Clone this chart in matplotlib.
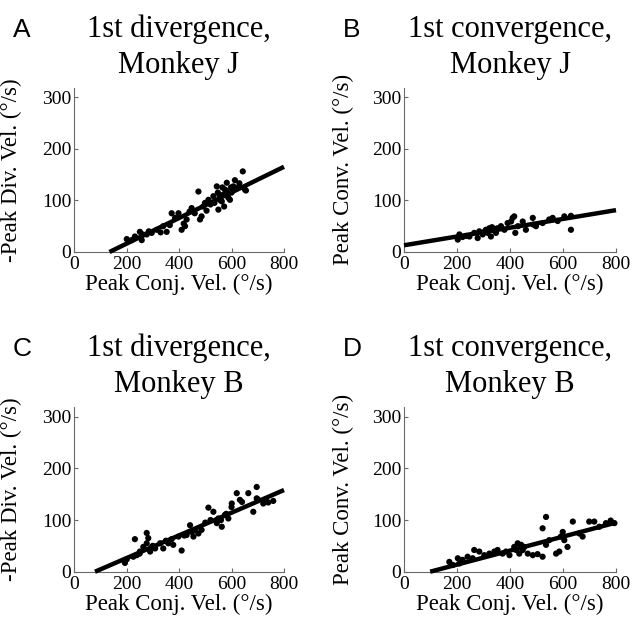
import matplotlib
matplotlib.use("Agg")
import matplotlib.pyplot as plt
import numpy as np

SERIF = "Liberation Serif"
SANS = "Liberation Sans"

# ---- data: peak conjugate velocity vs. peak vergence velocity (deg/s) ----
a_x = [201, 220, 232, 251, 258, 262, 277, 285, 296, 315, 330, 340, 353, 365, 372,
       385, 398, 410, 418, 423, 429, 440, 448, 460, 474, 480, 486, 492, 499, 505,
       512, 520, 531, 535, 544, 548, 550, 555, 558, 563, 565, 569, 572, 575, 580,
       582, 588, 594, 598, 600, 607, 613, 620, 630, 643, 651, 655]
a_y = [25, 23, 30, 39, 23, 34, 34, 40, 37, 43, 38, 50, 39, 52, 75,
       66, 75, 43, 55, 50, 63, 78, 85, 75, 117, 63, 69, 88, 95, 80,
       101, 92, 108, 95, 127, 115, 82, 110, 100, 98, 125, 111, 88, 121, 118,
       134, 105, 101, 125, 115, 127, 139, 124, 133, 156, 121, 119]

b_x = [203, 209, 221, 235, 247, 265, 278, 284, 297, 305, 309, 316, 322, 328, 332,
       335, 340, 347, 353, 366, 379, 391, 404, 410, 416, 420, 430, 448, 460, 486,
       488, 498, 523, 548, 561, 580, 605, 630, 630]
b_y = [24, 34, 29, 31, 30, 37, 27, 40, 34, 40, 43, 37, 46, 30, 48,
       43, 45, 37, 46, 50, 43, 56, 59, 66, 69, 37, 50, 59, 43, 66,
       53, 50, 56, 63, 66, 60, 69, 70, 43]

c_x = [194, 201, 226, 232, 239, 250, 251, 264, 277, 277, 283, 290, 296, 300, 309,
       328, 340, 350, 359, 372, 378, 398, 410, 420, 429, 442, 448, 455, 460, 474,
       486, 500, 512, 520, 531, 544, 550, 560, 563, 575, 580, 588, 600, 601, 620,
       632, 640, 664, 683, 696, 696, 700, 721, 730, 740, 759]
c_y = [17, 24, 29, 63, 32, 35, 39, 48, 75, 55, 65, 39, 48, 50, 45,
       55, 45, 60, 55, 63, 52, 68, 41, 70, 71, 90, 77, 68, 80, 74,
       81, 95, 124, 100, 116, 94, 103, 100, 87, 110, 112, 103, 125, 132, 152,
       139, 135, 152, 116, 164, 142, 140, 132, 140, 134, 137]

d_x = [171, 184, 203, 209, 221, 240, 259, 265, 284, 303, 322, 341, 353, 372, 385,
       398, 416, 423, 429, 435, 442, 448, 454, 467, 486, 504, 523, 536, 523, 536,
       548, 574, 586, 592, 599, 605, 617, 637, 661, 674, 699, 718, 737, 762, 780,
       794]
d_y = [19, 13, 26, 16, 23, 29, 26, 42, 39, 32, 35, 39, 42, 35, 39,
       32, 48, 42, 55, 35, 52, 42, 48, 35, 32, 34, 29, 52, 84, 106,
       61, 35, 39, 68, 77, 61, 48, 97, 74, 68, 97, 97, 87, 94, 99,
       94]

# regression lines: slope, intercept
fit_slope = [0.248, 0.085, 0.2196, 0.1355]
fit_icpt = [-33.5, 13.0, -17.6, -13.4]

letters = ["A", "B", "C", "D"]
titles = ["1st divergence,\nMonkey J", "1st convergence,\nMonkey J",
          "1st divergence,\nMonkey B", "1st convergence,\nMonkey B"]
ylabels = ["-Peak Div. Vel. (°/s)", "Peak Conv. Vel. (°/s)",
           "-Peak Div. Vel. (°/s)", "Peak Conv. Vel. (°/s)"]
xlabel = "Peak Conj. Vel. (°/s)"
xticks = [0, 200, 400, 600, 800]
yticks = [0, 100, 200, 300]

W, H = 633, 620
fig = plt.figure(figsize=(W / 100, H / 100), dpi=100)

ax_h = 164.3
lefts = [74, 404, 74, 404]
widths = [210, 212, 210, 212]
bottoms = [368, 368, 48.3, 48.3]
ylab_off = [-0.248, -0.236, -0.248, -0.236]

series = [(a_x, a_y), (b_x, b_y), (c_x, c_y), (d_x, d_y)]
spine_col = "#6a6a6a"

for i in range(4):
    ax = fig.add_axes([lefts[i] / W, bottoms[i] / H, widths[i] / W, ax_h / H])
    xs, ys = series[i]
    ax.scatter(xs, ys, s=20, color="black", edgecolors="none", zorder=3, clip_on=False)
    m, b = fit_slope[i], fit_icpt[i]
    x0 = max(0.0, -b / m)
    lx = np.array([x0, 800.0])
    ax.plot(lx, m * lx + b, color="black", lw=3.2, solid_capstyle="butt", zorder=4,
            clip_on=False)

    ax.set_xlim(0, 800)
    ax.set_ylim(0, 318)
    ax.set_xticks(xticks)
    ax.set_yticks(yticks)
    for s in ("top", "right"):
        ax.spines[s].set_visible(False)
    for s in ("left", "bottom"):
        ax.spines[s].set_color(spine_col)
        ax.spines[s].set_linewidth(0.8)
    ax.tick_params(direction="in", length=3, width=0.8, color=spine_col,
                   labelsize=14, pad=2)
    ax.tick_params(axis="x", pad=3)
    for lab in ax.get_xticklabels() + ax.get_yticklabels():
        lab.set_fontfamily(SERIF)

    ax.set_xlabel(xlabel, fontfamily=SERIF, fontsize=16.5)
    ax.xaxis.set_label_coords(0.5, -0.135)
    ax.set_ylabel(ylabels[i], fontfamily=SERIF, fontsize=16.5)
    ax.yaxis.set_label_coords(ylab_off[i], 0.5)

    top_px = H - (bottoms[i] + ax_h)  # from top of figure
    cx = (lefts[i] + widths[i] / 2) / W
    line1, line2 = titles[i].split("\n")
    fig.text(cx, 1 - (top_px - 51) / H, line1,
             ha="center", va="baseline", fontfamily=SERIF, fontsize=22)
    fig.text(cx, 1 - (top_px - 15) / H, line2,
             ha="center", va="baseline", fontfamily=SERIF, fontsize=22)
    fig.text((lefts[i] - 61) / W, 1 - (top_px - 51) / H, letters[i],
             ha="left", va="baseline", fontfamily=SANS, fontsize=19)

fig.savefig("out.png", dpi=100, facecolor="white")
